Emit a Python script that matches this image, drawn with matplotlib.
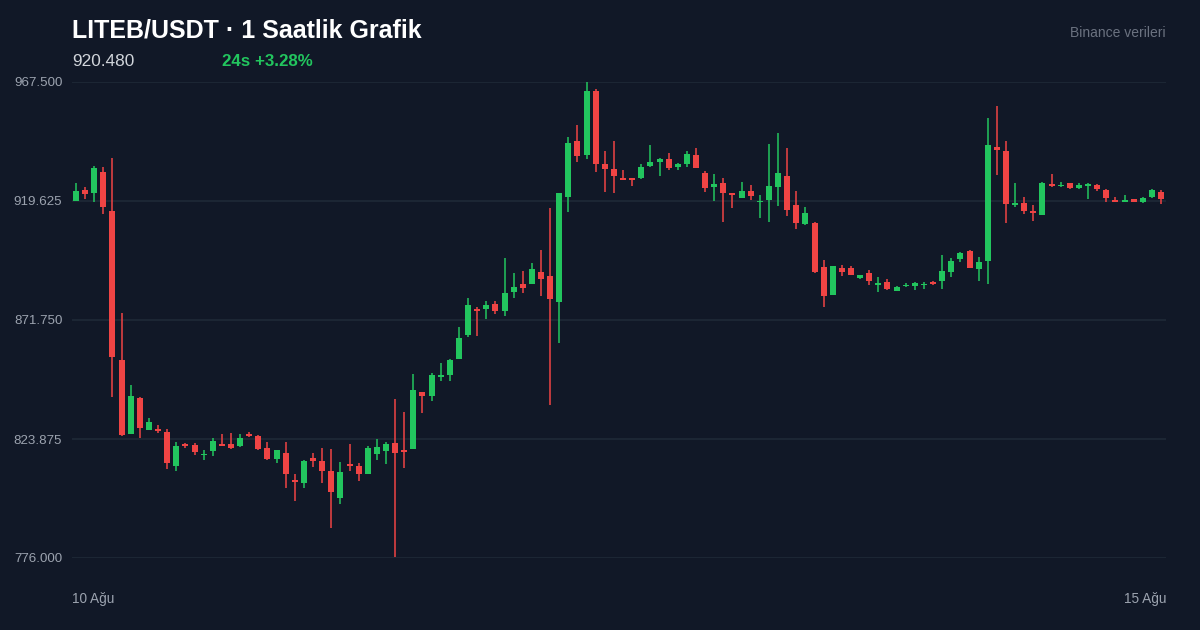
import matplotlib
matplotlib.use("Agg")
import matplotlib.pyplot as plt
import numpy as np

plt.rcParams['font.family'] = ['Liberation Sans', 'DejaVu Sans']

# hourly OHLC (120 candles, 10 Ağu -> 15 Ağu)
opens = [919.8, 924.1, 922.7, 931.3, 915.7, 855.7, 826.0, 840.5, 827.6, 828.0,
         826.8, 813.1, 821.9, 821.5, 817.3, 819.1, 822.0, 821.9, 820.9, 826.0,
         825.0, 820.3, 816.0, 818.2, 807.4, 806.2, 816.1, 815.0, 810.9, 800.1,
         813.8, 812.9, 809.9, 817.7, 819.2, 822.2, 819.5, 819.9, 842.6, 841.1,
         848.8, 849.7, 856.2, 865.6, 876.2, 876.2, 878.2, 875.4, 883.1, 886.4,
         886.2, 891.2, 889.3, 878.9, 921.4, 943.6, 938.0, 964.0, 934.6, 932.5,
         928.6, 928.8, 928.7, 933.6, 935.2, 936.4, 933.3, 934.5, 938.0, 930.9,
         925.1, 926.9, 922.8, 921.0, 923.7, 919.1, 920.0, 925.4, 929.6, 917.9,
         910.3, 910.8, 893.1, 881.9, 892.8, 892.7, 888.5, 890.5, 886.0, 887.0,
         883.4, 885.3, 885.6, 885.7, 887.0, 887.6, 891.2, 896.3, 899.6, 892.4,
         895.4, 941.4, 939.7, 918.1, 918.9, 915.6, 914.1, 926.3, 925.5, 926.8,
         925.0, 925.7, 926.1, 924.2, 919.9, 919.3, 920.3, 919.3, 921.2, 923.4]
highs = [927.0, 925.4, 933.7, 933.3, 936.8, 874.6, 845.6, 840.8, 832.4, 829.5,
         827.8, 822.6, 822.1, 822.4, 819.5, 824.4, 825.9, 826.4, 825.9, 826.6,
         825.3, 822.6, 819.5, 822.7, 809.7, 815.6, 818.2, 820.1, 819.7, 814.6,
         821.7, 814.1, 820.9, 824.0, 822.6, 840.0, 834.6, 850.0, 842.8, 850.6,
         854.3, 856.1, 868.8, 880.6, 877.0, 879.3, 879.3, 896.7, 890.7, 891.6,
         894.6, 899.9, 916.8, 922.8, 945.4, 950.1, 967.5, 964.6, 939.6, 943.6,
         932.1, 928.9, 934.5, 942.2, 936.8, 938.8, 935.0, 939.6, 941.0, 931.7,
         930.4, 928.9, 922.9, 927.2, 926.1, 922.0, 942.4, 947.0, 940.8, 923.7,
         917.2, 911.0, 895.8, 893.5, 893.8, 893.5, 889.9, 891.9, 889.1, 888.1,
         885.3, 886.8, 886.9, 886.9, 887.6, 897.9, 896.8, 899.2, 899.9, 897.0,
         953.0, 957.9, 943.6, 927.0, 921.4, 917.9, 927.2, 930.5, 927.2, 927.0,
         926.8, 927.0, 926.3, 924.3, 921.4, 921.9, 920.6, 921.2, 924.3, 923.9]
lows = [919.6, 920.4, 919.3, 914.3, 840.9, 825.2, 825.8, 824.4, 827.4, 826.2,
        811.7, 811.0, 820.1, 817.4, 815.4, 817.0, 821.0, 820.0, 820.7, 824.7,
        819.3, 815.5, 814.3, 804.0, 799.1, 804.3, 812.7, 806.3, 788.2, 797.7,
        811.1, 807.1, 809.7, 815.4, 813.9, 776.3, 812.2, 819.7, 834.2, 839.3,
        847.3, 847.1, 856.0, 864.8, 865.4, 872.2, 874.3, 873.5, 880.7, 882.7,
        886.1, 881.5, 837.7, 862.6, 915.3, 935.3, 936.6, 931.4, 923.1, 922.8,
        927.9, 925.8, 928.6, 933.3, 929.7, 932.1, 932.1, 933.4, 932.9, 923.1,
        919.8, 911.1, 916.7, 920.7, 920.0, 912.7, 911.1, 917.6, 913.7, 908.5,
        909.9, 890.6, 877.0, 881.8, 889.6, 889.8, 888.4, 885.8, 882.9, 884.0,
        883.3, 885.2, 883.8, 884.2, 885.8, 884.3, 889.2, 895.2, 892.5, 887.6,
        886.2, 930.1, 910.9, 917.1, 914.4, 911.7, 914.0, 925.3, 925.4, 924.3,
        924.5, 920.3, 923.8, 919.3, 919.2, 919.1, 919.1, 918.7, 921.0, 918.4]
closes = [923.8, 922.3, 932.8, 917.1, 857.0, 825.6, 841.2, 828.2, 830.8, 827.2,
          814.2, 821.2, 821.2, 818.7, 818.0, 823.1, 821.2, 820.1, 824.4, 825.2,
          820.0, 815.7, 819.3, 809.9, 806.6, 815.0, 814.9, 811.1, 802.4, 810.6,
          813.1, 809.9, 820.4, 820.5, 821.9, 818.4, 818.7, 843.6, 841.1, 849.6,
          849.6, 855.7, 864.6, 877.7, 875.4, 877.7, 875.4, 882.7, 885.0, 884.5,
          892.3, 888.1, 880.2, 922.7, 943.0, 937.9, 963.9, 934.4, 932.6, 929.8,
          928.1, 928.1, 933.4, 935.4, 936.6, 933.0, 934.5, 938.7, 933.0, 925.0,
          926.5, 923.0, 922.2, 923.5, 921.5, 919.8, 925.8, 931.0, 916.0, 910.9,
          914.7, 890.9, 881.5, 893.4, 891.2, 890.0, 889.7, 887.3, 886.6, 884.1,
          885.2, 886.0, 886.8, 886.4, 886.2, 891.5, 895.5, 898.7, 892.8, 895.2,
          942.0, 940.3, 918.3, 918.9, 915.6, 914.9, 926.8, 925.7, 926.2, 924.9,
          926.2, 926.3, 924.5, 920.8, 919.3, 919.9, 919.3, 920.7, 924.2, 920.48]

y_ticks = [776.0, 823.875, 871.75, 919.625, 967.5]
x_labels = ["10 Ağu", "15 Ağu"]
title = "LITEB/USDT · 1 Saatlik Grafik"
last_price = "920.480"
change_text = "24s +3.28%"
source_text = "Binance verileri"

BG = "#111827"
GRID = "#1f2937"
UP = "#22c55e"
DOWN = "#ef4444"
MUTED = "#9ca3af"

fig = plt.figure(figsize=(12, 6.3), dpi=100, facecolor=BG)
ax = fig.add_axes([72 / 1200, 72 / 630, (1166 - 72) / 1200, (558 - 82) / 630])
ax.set_facecolor(BG)

o = np.array(opens)
h = np.array(highs)
l = np.array(lows)
c = np.array(closes)
x = np.arange(len(o))
colors = np.where(c >= o, UP, DOWN)

body_lo = np.minimum(o, c)
body_h = np.maximum(np.abs(c - o), 0.7)

ax.vlines(x, l, h, colors=colors, linewidth=1.1, zorder=2, clip_on=False)
ax.bar(x, body_h, bottom=body_lo, width=0.66, color=colors, zorder=3,
       linewidth=0, clip_on=False)

ax.set_ylim(y_ticks[0], y_ticks[-1])
ax.set_xlim(-0.44, len(o) - 1 + 0.55)
ax.set_yticks(y_ticks)
ax.set_yticklabels([f"{v:.3f}" for v in y_ticks])
ax.set_xticks([])
for v in y_ticks:
    ax.axhline(v, color=GRID, linewidth=1.2, zorder=1)
ax.tick_params(axis='y', length=0, pad=7, labelsize=9.6, labelcolor=MUTED)
for s in ax.spines.values():
    s.set_visible(False)

fig.text(72 / 1200, 1 - 31 / 630, title, color="white", fontsize=18,
         fontweight="bold", va="center", ha="left")
fig.text(72 / 1200, 1 - 61 / 630, last_price, color="#d1d5db", fontsize=12.4,
         va="center", ha="left")
fig.text(222 / 1200, 1 - 61 / 630, change_text, color=UP, fontsize=12.2,
         fontweight="bold", va="center", ha="left")
fig.text(1166 / 1200, 1 - 33 / 630, source_text, color="#6b7280", fontsize=10,
         va="center", ha="right")
fig.text(72 / 1200, 1 - 599 / 630, x_labels[0], color=MUTED, fontsize=9.8,
         va="center", ha="left")
fig.text(1166 / 1200, 1 - 599 / 630, x_labels[1], color=MUTED, fontsize=9.8,
         va="center", ha="right")

fig.savefig("out.png", dpi=100, facecolor=BG)
